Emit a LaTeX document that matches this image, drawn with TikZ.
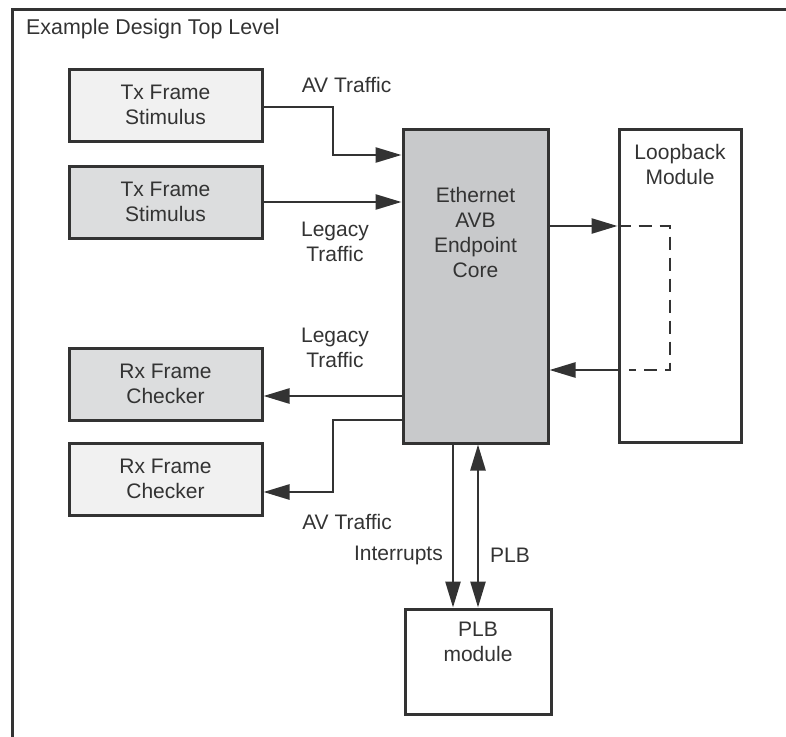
\documentclass[tikz,border=0pt]{standalone}
\usepackage{fontspec}
\setmainfont{Liberation Sans}
\usetikzlibrary{arrows.meta}
\definecolor{ln}{HTML}{333333}
\definecolor{lightf}{HTML}{F1F1F1}
\definecolor{midf}{HTML}{DCDDDE}
\definecolor{coref}{HTML}{C8C9CB}
\begin{document}
\begin{tikzpicture}[x=1pt,y=-1pt,
  box/.style={draw=ln,line width=3pt,rectangle,inner sep=0pt,align=center,text=ln},
  lbl/.style={font=\fontsize{21}{25}\selectfont,text=ln,align=center,inner sep=0pt},
  arr/.style={draw=ln,line width=2.6pt,-{Triangle[length=26pt,width=15pt]}},
  conn/.style={draw=ln,line width=2.6pt}]
\useasboundingbox (0,0) rectangle (786,736);
\draw[ln,line width=3pt] (12,800) -- (12,9) -- (820,9);
\node[lbl,anchor=west,font=\fontsize{21.4}{25}\selectfont] (title) at (26,29) {Example Design Top Level};
% boxes
\node[box,fill=lightf,minimum width=193pt,minimum height=72pt,lbl] (tx1) at (165.5,105) {Tx Frame\\Stimulus};
\node[box,fill=midf,minimum width=193pt,minimum height=72pt,lbl] (tx2) at (165.5,202) {Tx Frame\\Stimulus};
\node[box,fill=midf,minimum width=193pt,minimum height=72pt,lbl] (rx1) at (165.5,384) {Rx Frame\\Checker};
\node[box,fill=lightf,minimum width=193pt,minimum height=72pt,lbl] (rx2) at (165.5,479) {Rx Frame\\Checker};
\node[box,fill=coref,minimum width=145pt,minimum height=314pt] (core) at (475.5,286) {};
\node[lbl] (coretext) at (475.5,232) {Ethernet\\AVB\\Endpoint\\Core};
\node[box,fill=white,minimum width=122pt,minimum height=313pt] (loop) at (680,285.5) {};
\node[lbl] (looptext) at (680,164.5) {Loopback\\Module};
\node[box,fill=white,minimum width=146pt,minimum height=105pt] (plb) at (478,661.5) {};
\node[lbl] (plbtext) at (478,641.5) {PLB\\module};
% labels
\node[lbl] (lav1) at (346.5,85) {AV Traffic};
\node[lbl] (lleg1) at (335,241.5) {Legacy\\Traffic};
\node[lbl] (lleg2) at (335,347.5) {Legacy\\Traffic};
\node[lbl] (lav2) at (347,522) {AV Traffic};
\node[lbl,anchor=east] (lint) at (443,555) {Interrupts};
\node[lbl] (lplb) at (510,555) {PLB};
% connectors
\coordinate (a1) at (333,107);
\coordinate (a2) at (333,155);
\draw[arr] (tx1.east |- a1) -- (a1) -- (a2) -- (core.west |- a2);
\draw[arr] (tx2.east) -- (core.west |- tx2.east);
\coordinate (lpt) at (670,226);
\coordinate (lpb) at (670,370);
\coordinate (lpe) at (629,370);
\draw[arr] (core.east |- lpt) -- (loop.west |- lpt);
\draw[conn,dash pattern=on 13pt off 8pt] (loop.west |- lpt) -- (lpt) -- (lpb) -- (lpe);
\draw[arr] (loop.west |- lpb) -- (core.east |- lpb);
\coordinate (r1) at (300,396);
\draw[arr] (core.west |- r1) -- (rx1.east |- r1);
\coordinate (r2a) at (333,420);
\coordinate (r2b) at (333,492);
\draw[arr] (core.west |- r2a) -- (r2a) -- (r2b) -- (rx2.east |- r2b);
\coordinate (ix) at (453,0);
\coordinate (px) at (478,0);
\draw[arr] (core.south -| ix) -- (plb.north -| ix);
\draw[arr,{Triangle[length=26pt,width=15pt]}-{Triangle[length=26pt,width=15pt]}] (core.south -| px) -- (plb.north -| px);
\end{tikzpicture}
\end{document}
